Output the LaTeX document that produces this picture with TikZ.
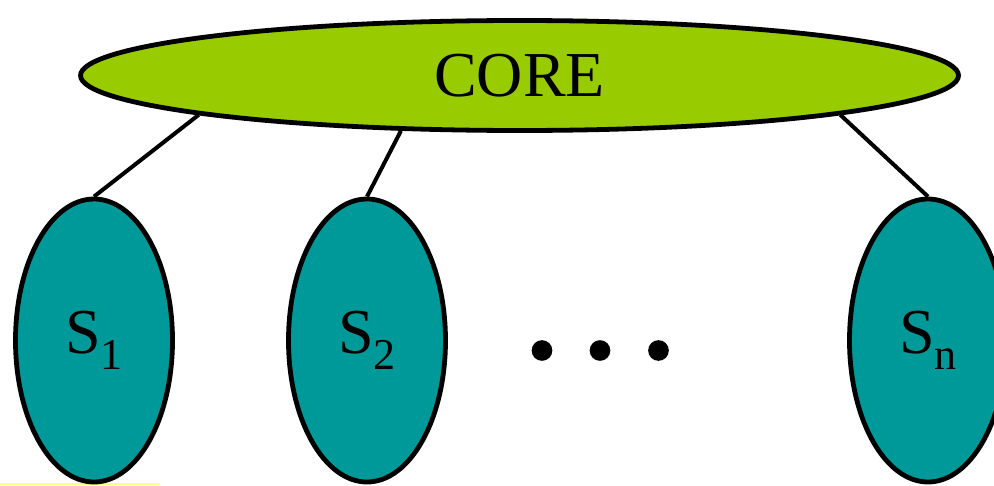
\documentclass[tikz,border=0pt]{standalone}
\usepackage{fontspec}
\setmainfont{Liberation Serif}
\usetikzlibrary{shapes.geometric}
\definecolor{coregreen}{HTML}{99CC00}
\definecolor{steal}{HTML}{009999}
\definecolor{paleyellow}{HTML}{FFFF80}
\tikzset{
  coreshape/.style={ellipse, draw=black, line width=3.6pt, fill=coregreen, inner sep=0pt,
    minimum width=878*0.75pt, minimum height=110*0.75pt,
    font=\fontsize{48}{48}\selectfont},
  subsys/.style={ellipse, draw=black, line width=3.6pt, fill=steal, inner sep=0pt,
    minimum width=157*0.75pt, minimum height=283*0.75pt,
    font=\fontsize{48}{48}\selectfont},
  link/.style={draw=black, line width=3pt},
  dot/.style={circle, fill=black, inner sep=0pt, minimum size=15.5pt},
}
\newcommand{\subidx}[1]{\raisebox{-12pt}{\fontsize{33}{33}\selectfont #1}}
\begin{document}
\begin{tikzpicture}[x=0.75pt, y=-0.75pt]
\useasboundingbox (0,0) rectangle (994,485);
\clip (0,0) rectangle (994,485);
\fill[white] (0,0) rectangle (994,485);
\draw[paleyellow, line width=1.2pt] (0,484) -- (160,484);
\node[coreshape] (core) at (519.5,75.5) {CORE};
\node[subsys] (s1) at (94,340.5) {S\subidx{1}};
\node[subsys] (s2) at (367,340.5) {S\subidx{2}};
\node[subsys] (sn) at (928,340.5) {S\subidx{n}};
\node[dot] (d1) at (542,350.5) {};
\node[dot] (d2) at (600,350.5) {};
\node[dot] (d3) at (658.5,350.5) {};
\draw[link] (core.187.4) -- (s1.north);
\draw[link] (core.205) -- (s2.north);
\draw[link] (core.353.3) -- (sn.north);
\end{tikzpicture}
\end{document}
